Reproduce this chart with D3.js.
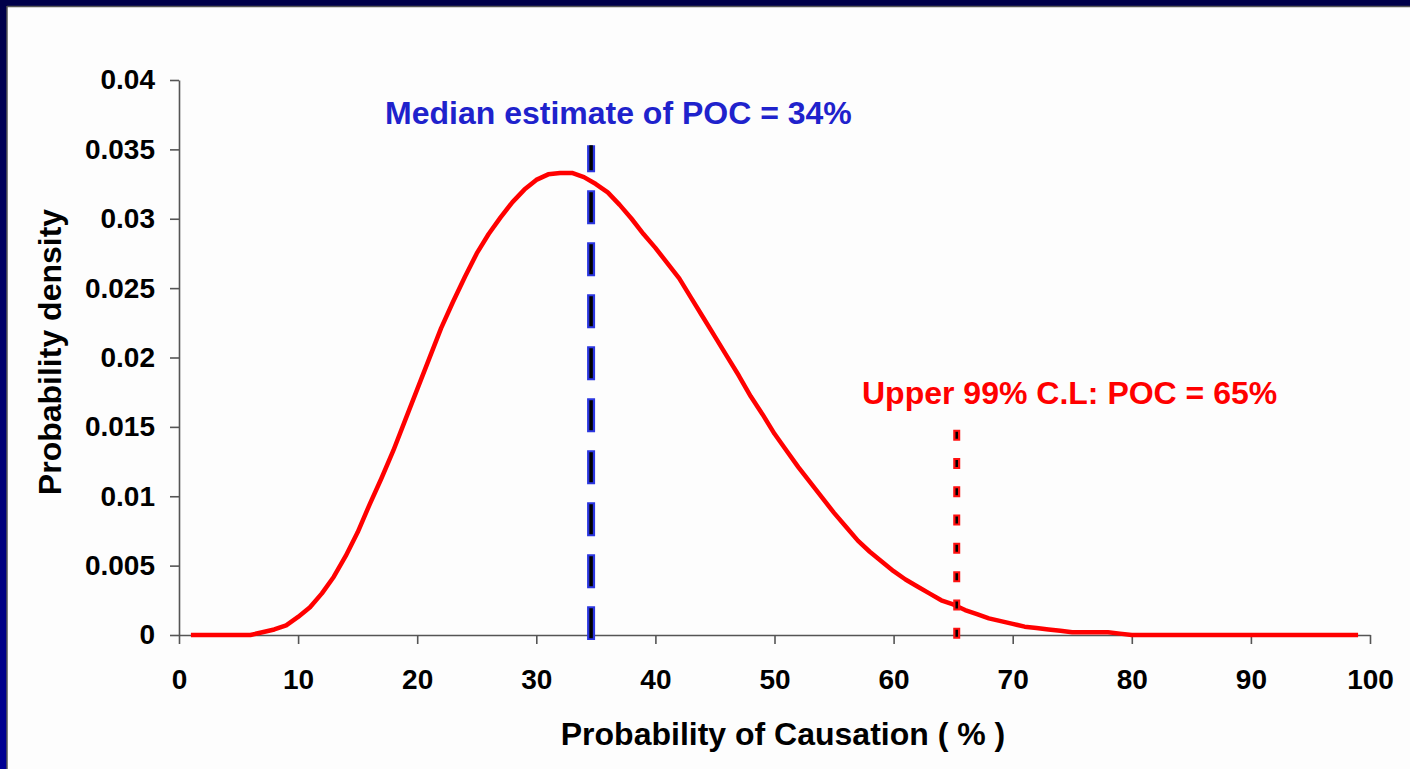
<!DOCTYPE html>
<html>
<head>
<meta charset="utf-8">
<script src="https://cdn.jsdelivr.net/npm/d3@7"></script>
<style>
  html, body { margin: 0; padding: 0; background: #fdfdfd; }
  svg { display: block; }
</style>
</head>
<body>
<div id="chart"></div>
<script>
// probability of causation (%) and its density
var poc = [];
for (var p = 1; p <= 99; p++) poc.push(p);
var density = [
  0, 0, 0, 0, 0, 0, 0.0002, 0.0004, 0.0007, 0.0013,
  0.0020, 0.0030, 0.0042, 0.0057, 0.0074, 0.0094, 0.0113, 0.0133, 0.0155, 0.0177,
  0.0199, 0.0221, 0.0240, 0.0258, 0.0275, 0.0289, 0.0301, 0.0312, 0.0321, 0.0328,
  0.0332, 0.0333, 0.0333, 0.0330, 0.0325, 0.0319, 0.0310, 0.0300, 0.0289, 0.0279,
  0.0268, 0.0257, 0.0243, 0.0229, 0.0215, 0.0201, 0.0187, 0.0172, 0.0159, 0.0145,
  0.0133, 0.0121, 0.0110, 0.0099, 0.0088, 0.0078, 0.0068, 0.0060, 0.0053, 0.0046,
  0.0040, 0.0035, 0.0030, 0.0025, 0.0022, 0.0018, 0.0015, 0.0012, 0.0010, 0.0008,
  0.0006, 0.0005, 0.0004, 0.0003, 0.0002, 0.0002, 0.0002, 0.0002, 0.0001, 0,
  0, 0, 0, 0, 0, 0, 0, 0, 0, 0,
  0, 0, 0, 0, 0, 0, 0, 0, 0
];
var xTicks = [0, 10, 20, 30, 40, 50, 60, 70, 80, 90, 100];
var yTicks = [0, 0.005, 0.01, 0.015, 0.02, 0.025, 0.03, 0.035, 0.04];
var yTickLabels = ["0", "0.005", "0.01", "0.015", "0.02", "0.025", "0.03", "0.035", "0.04"];

// marker lines: x position (%), top of line (density)
var medianLine = { x: 34.6, top: 0.0353, label: "Median estimate of POC = 34%" };
var upperLine = { x: 65.3, top: 0.0148, label: "Upper 99% C.L: POC = 65%" };

var xTitle = "Probability of Causation ( % )";
var yTitle = "Probability density";

var W = 1410, H = 769;
var margin = { top: 80, right: 40, bottom: 134, left: 179 };

var svg = d3.select("#chart").append("svg")
    .attr("width", W)
    .attr("height", H)
    .style("font-family", "Arial, 'Liberation Sans', sans-serif");

// slide frame
var defs = svg.append("defs");
var grad = defs.append("linearGradient").attr("id", "leftband")
    .attr("x1", 0).attr("y1", 0).attr("x2", 0).attr("y2", 1);
grad.append("stop").attr("offset", "0%").attr("stop-color", "#00004a");
grad.append("stop").attr("offset", "100%").attr("stop-color", "#000094");

svg.append("rect").attr("width", W).attr("height", H).attr("fill", "#fdfdfd");
svg.append("rect").attr("x", 0).attr("y", 0).attr("width", 7).attr("height", H).attr("fill", "url(#leftband)");
svg.append("rect").attr("x", 0).attr("y", 0).attr("width", W).attr("height", 6).attr("fill", "#00004a");
svg.append("line").attr("x1", 7).attr("x2", W).attr("y1", 6.5).attr("y2", 6.5).attr("stroke", "#555").attr("stroke-width", 1.5);
svg.append("line").attr("x1", 7).attr("x2", 7).attr("y1", 6).attr("y2", H).attr("stroke", "#555").attr("stroke-width", 1.5);

var x = d3.scaleLinear().domain([0, 100]).range([margin.left, W - margin.right]);
var y = d3.scaleLinear().domain([0, 0.04]).range([H - margin.bottom, margin.top]);

// axes
var xAxis = svg.append("g")
    .attr("transform", "translate(0," + y(0) + ")")
    .call(d3.axisBottom(x).tickValues(xTicks).tickSize(9).tickPadding(25).tickSizeOuter(0));
var yAxis = svg.append("g")
    .attr("transform", "translate(" + x(0) + ",0)")
    .call(d3.axisLeft(y).tickValues(yTicks).tickFormat(function (d, i) { return yTickLabels[i]; })
        .tickSize(9).tickPadding(15).tickSizeOuter(0));

[xAxis, yAxis].forEach(function (g) {
    g.select(".domain").attr("stroke", "#555").attr("stroke-width", 1.6);
    g.selectAll(".tick line").attr("stroke", "#555").attr("stroke-width", 1.6);
    g.selectAll(".tick text")
        .attr("fill", "#000")
        .style("font-size", "28px")
        .style("font-weight", "bold")
        .style("font-family", "Arial, 'Liberation Sans', sans-serif");
});

// density curve
var line = d3.line()
    .x(function (d, i) { return x(poc[i]); })
    .y(function (d) { return y(d); });

svg.append("path")
    .datum(density)
    .attr("d", line)
    .attr("fill", "none")
    .attr("stroke", "#ff0000")
    .attr("stroke-width", 4.5)
    .attr("stroke-linejoin", "round");

// median marker: blue dashes with black core
var medBottom = y(0) + 5;
svg.append("line")
    .attr("x1", x(medianLine.x)).attr("x2", x(medianLine.x))
    .attr("y1", y(medianLine.top)).attr("y2", medBottom)
    .attr("stroke", "#2b36e0").attr("stroke-width", 8)
    .attr("stroke-dasharray", "34,18").attr("stroke-dashoffset", 7);
svg.append("line")
    .attr("x1", x(medianLine.x)).attr("x2", x(medianLine.x))
    .attr("y1", y(medianLine.top)).attr("y2", medBottom)
    .attr("stroke", "#000").attr("stroke-width", 3.5)
    .attr("stroke-dasharray", "30,22").attr("stroke-dashoffset", 5);

// upper confidence marker: red dots with black core
var upBottom = y(0) + 4;
svg.append("line")
    .attr("x1", x(upperLine.x)).attr("x2", x(upperLine.x))
    .attr("y1", y(upperLine.top)).attr("y2", upBottom)
    .attr("stroke", "#ff1010").attr("stroke-width", 7)
    .attr("stroke-dasharray", "11,17.3");
svg.append("line")
    .attr("x1", x(upperLine.x)).attr("x2", x(upperLine.x))
    .attr("y1", y(upperLine.top)).attr("y2", upBottom)
    .attr("stroke", "#000").attr("stroke-width", 2.5)
    .attr("stroke-dasharray", "7,21.3").attr("stroke-dashoffset", -2);

// annotations
svg.append("text")
    .attr("x", 385).attr("y", 124)
    .attr("fill", "#1f22cc")
    .style("font-size", "32px").style("font-weight", "bold")
    .text(medianLine.label);
svg.append("text")
    .attr("x", 862).attr("y", 404)
    .attr("fill", "#ff0000")
    .style("font-size", "32px").style("font-weight", "bold")
    .text(upperLine.label);

// axis titles
svg.append("text")
    .attr("x", 783).attr("y", 745)
    .attr("text-anchor", "middle")
    .attr("fill", "#000")
    .style("font-size", "32px").style("font-weight", "bold")
    .text(xTitle);
svg.append("text")
    .attr("transform", "translate(61,352) rotate(-90)")
    .attr("text-anchor", "middle")
    .attr("fill", "#000")
    .style("font-size", "32px").style("font-weight", "bold")
    .text(yTitle);
</script>
</body>
</html>
